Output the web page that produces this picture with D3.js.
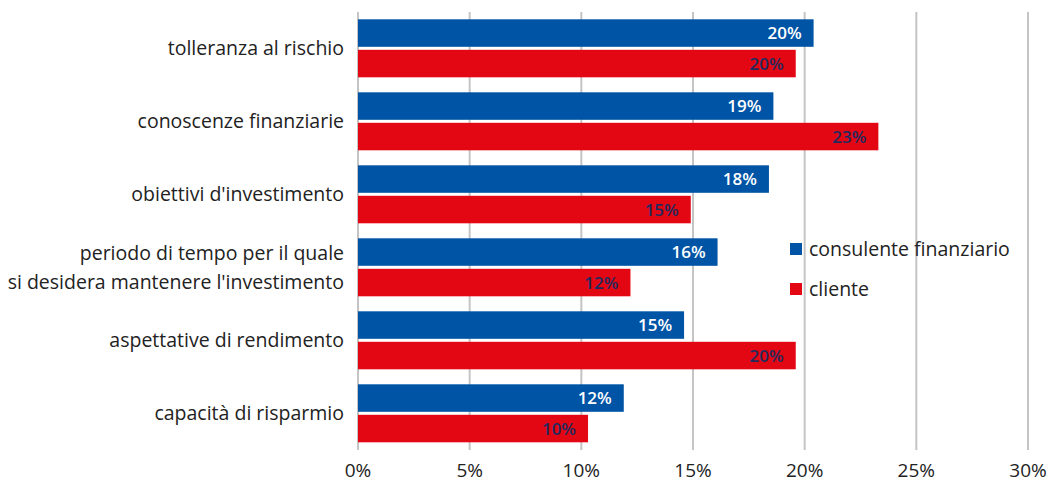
<!DOCTYPE html>
<html>
<head>
<meta charset="utf-8">
<script src="https://cdn.jsdelivr.net/npm/d3@7"></script>
<style>
  body { margin: 0; background: #fff; }
  svg { font-family: "Open Sans", "Noto Sans", sans-serif; }
</style>
</head>
<body>
<div id="graf"></div>
<script>
// dati
categorie = [
  ['tolleranza al rischio'],
  ['conoscenze finanziarie'],
  ["obiettivi d'investimento"],
  ['periodo di tempo per il quale', "si desidera mantenere l'investimento"],
  ['aspettative di rendimento'],
  ['capacità di risparmio']
]
consulente = [20.4, 18.6, 18.4, 16.1, 14.6, 11.9]
cliente = [19.6, 23.3, 14.9, 12.2, 19.6, 10.3]
serie = ['consulente finanziario', 'cliente']
colori = ['#0054a6', '#e30613']
coloriTesto = ['#ffffff', '#1f2a5e']
ticks = [0, 5, 10, 15, 20, 25, 30]

ancho_total = 1048
alto_total = 488
margins = { top: 12, left: 358, right: 20, bottom: 38 }

svg = d3.select('#graf').append('svg')
  .attr('width', ancho_total)
  .attr('height', alto_total)

x = d3.scaleLinear().domain([0, 30]).range([margins.left, 1028])
y = d3.scaleBand()
  .domain(d3.range(categorie.length))
  .range([margins.top, alto_total - margins.bottom])
  .paddingInner(0.2)
  .paddingOuter(0.1)

// griglia
svg.append('g').selectAll('line')
  .data(ticks)
  .join('line')
  .attr('x1', d => x(d)).attr('x2', d => x(d))
  .attr('y1', margins.top).attr('y2', alto_total - margins.bottom)
  .attr('stroke', '#c4c4c4')
  .attr('stroke-width', 2)

// etichette asse x
svg.append('g').selectAll('text')
  .data(ticks)
  .join('text')
  .attr('x', d => x(d))
  .attr('y', 477)
  .attr('text-anchor', 'middle')
  .attr('font-size', 19)
  .attr('fill', '#222')
  .text(d => d + '%')

// barre
dati = []
categorie.forEach((c, i) => {
  dati.push({ i: i, s: 0, v: consulente[i] })
  dati.push({ i: i, s: 1, v: cliente[i] })
})

altoBarra = 27.5
posBarra = [0, 30.5]

svg.append('g').selectAll('rect')
  .data(dati)
  .join('rect')
  .attr('x', x(0))
  .attr('y', d => y(d.i) + posBarra[d.s])
  .attr('width', d => x(d.v) - x(0))
  .attr('height', altoBarra)
  .attr('fill', d => colori[d.s])

svg.append('g').selectAll('text')
  .data(dati)
  .join('text')
  .attr('x', d => x(d.v) - 12)
  .attr('y', d => y(d.i) + posBarra[d.s] + altoBarra / 2 + 6)
  .attr('text-anchor', 'end')
  .attr('font-size', 17)
  .attr('font-weight', 600)
  .attr('fill', d => coloriTesto[d.s])
  .text(d => Math.round(d.v) + '%')

// etichette categorie
cat = svg.append('g').selectAll('text')
  .data(categorie)
  .join('text')
  .attr('text-anchor', 'end')
  .attr('font-size', 19.5)
  .attr('fill', '#222')
  .attr('y', (d, i) => y(i) + y.bandwidth() / 2 + 6 - (d.length - 1) * 14)

cat.selectAll('tspan')
  .data(d => d)
  .join('tspan')
  .attr('x', 344)
  .attr('dy', (d, j) => j === 0 ? 0 : 29)
  .text(d => d)

// legenda
leg = svg.append('g').selectAll('g')
  .data(serie)
  .join('g')
  .attr('transform', (d, i) => `translate(790, ${ 243 + i * 40 })`)

leg.append('rect')
  .attr('width', 12).attr('height', 12)
  .attr('fill', (d, i) => colori[i])

leg.append('text')
  .attr('x', 19).attr('y', 13)
  .attr('font-size', 19.5)
  .attr('fill', '#222')
  .text(d => d)
</script>
</body>
</html>
